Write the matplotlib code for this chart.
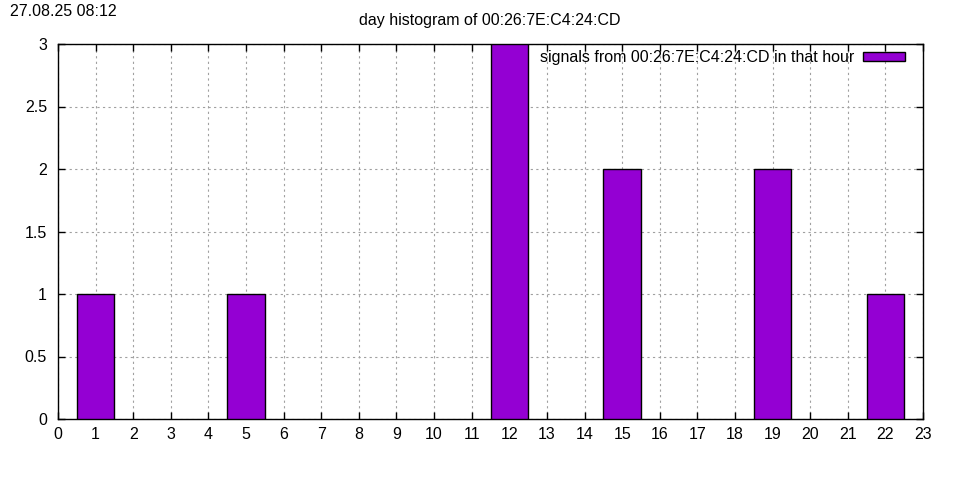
import matplotlib
matplotlib.use('Agg')
import matplotlib.pyplot as plt
from matplotlib.ticker import MultipleLocator, FuncFormatter

plt.rcParams['font.family'] = ['Liberation Sans', 'DejaVu Sans']
plt.rcParams['font.size'] = 11.5

hours = [1, 5, 12, 15, 19, 22]
counts = [1, 1, 3, 2, 2, 1]
mac = '00:26:7E:C4:24:CD'
stamp = '27.08.25 08:12'

fig = plt.figure(figsize=(9.6, 4.8), dpi=100)
ax = fig.add_axes([58/960, 61/480, 865/960, 375/480])

ax.bar(hours, counts, width=1.0, color='#9400d3', edgecolor='black', linewidth=1,
       label='signals from %s in that hour' % mac, zorder=3)

ax.set_xlim(0, 23)
ax.set_ylim(0, 3)
ax.xaxis.set_major_locator(MultipleLocator(1))
ax.yaxis.set_major_locator(MultipleLocator(0.5))
ax.yaxis.set_major_formatter(FuncFormatter(lambda v, p: '%g' % v))
ax.tick_params(direction='in', length=5, width=1, top=True, right=True, labelsize=11.5)
ax.tick_params(axis='x', pad=6)
ax.tick_params(axis='y', pad=8)
ax.grid(True, color='#a0a0a0', linestyle=(0, (2, 3)), linewidth=0.8, zorder=0)
for s in ax.spines.values():
    s.set_linewidth(1)

leg = ax.legend(loc='upper right', bbox_to_anchor=(0.986, 1.0), frameon=False,
                markerfirst=False, handlelength=2.6, handleheight=0.45,
                handletextpad=0.55, borderaxespad=0, fontsize=11.5)

fig.text(490/960, 1 - 20/480, 'day histogram of %s' % mac, ha='center', va='center')
fig.text(10/960, 1 - 12/480, stamp, ha='left', va='center')

fig.savefig('out.png', dpi=100)
